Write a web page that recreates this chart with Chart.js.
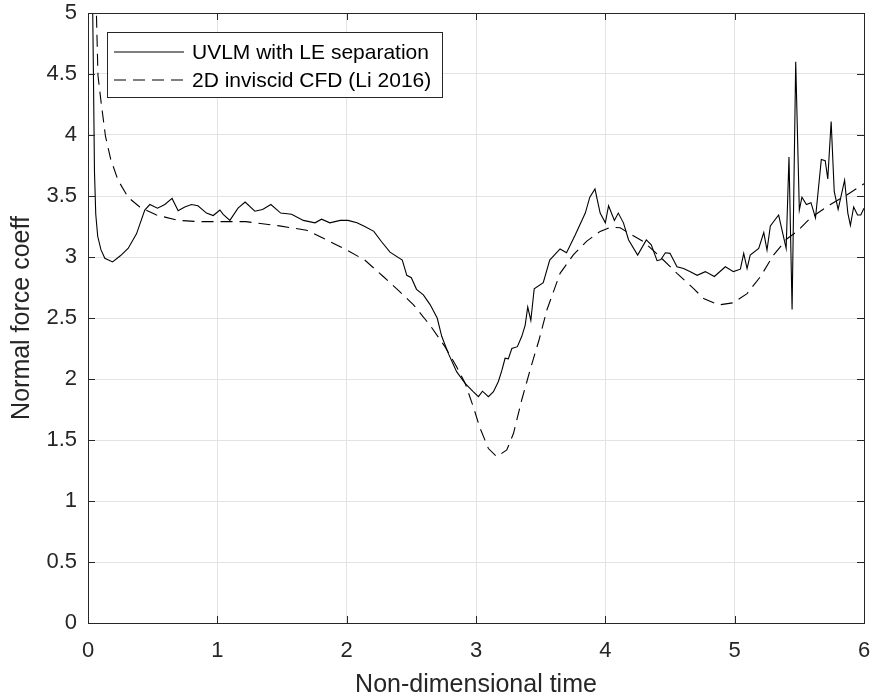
<!DOCTYPE html>
<html lang="en">
<head>
  <meta charset="UTF-8">
  <title>Normal force coefficient</title>
  <script src="https://cdn.jsdelivr.net/npm/chart.js"></script>
  <style>
    body { margin: 0; background: #fff; }
  </style>
</head>
<body>
  <canvas id="forceChart" width="871" height="700"></canvas>

  <script>
    // UVLM with LE separation (solid line)
    const uvlmT = [0.030, 0.042, 0.050, 0.060, 0.075, 0.100, 0.130, 0.190, 0.250, 0.310,
      0.375, 0.439, 0.478, 0.537, 0.594, 0.650, 0.697, 0.748, 0.800, 0.850,
      0.916, 0.968, 1.020, 1.045, 1.097, 1.160, 1.215, 1.290, 1.350, 1.414,
      1.490, 1.574, 1.665, 1.755, 1.806, 1.870, 1.950, 2.010, 2.080, 2.140,
      2.210, 2.270, 2.335, 2.430, 2.465, 2.500, 2.540, 2.593, 2.645, 2.700,
      2.735, 2.786, 2.850, 2.916, 2.980, 3.019, 3.050, 3.096, 3.135, 3.173,
      3.200, 3.225, 3.250, 3.277, 3.320, 3.354, 3.380, 3.400, 3.424, 3.450,
      3.520, 3.570, 3.650, 3.700, 3.767, 3.845, 3.880, 3.920, 3.960, 4.000,
      4.025, 4.070, 4.100, 4.140, 4.180, 4.250, 4.317, 4.355, 4.400, 4.430,
      4.464, 4.500, 4.554, 4.605, 4.657, 4.710, 4.773, 4.843, 4.928, 4.990,
      5.044, 5.070, 5.096, 5.120, 5.186, 5.225, 5.250, 5.276, 5.340, 5.398,
      5.420, 5.444, 5.472, 5.500, 5.520, 5.555, 5.590, 5.625, 5.670, 5.700,
      5.720, 5.746, 5.770, 5.800, 5.850, 5.875, 5.895, 5.920, 5.950, 5.975, 6.000];
    const uvlmCn = [5.60, 4.50, 3.70, 3.35, 3.17, 3.06, 2.99, 2.96, 3.01, 3.07,
      3.19, 3.385, 3.43, 3.40, 3.43, 3.48, 3.38, 3.41, 3.43, 3.42,
      3.36, 3.34, 3.385, 3.35, 3.30, 3.40, 3.45, 3.375, 3.39, 3.43,
      3.36, 3.35, 3.30, 3.28, 3.31, 3.28, 3.30, 3.30, 3.28, 3.25,
      3.21, 3.125, 3.04, 2.975, 2.85, 2.83, 2.735, 2.69, 2.61, 2.50,
      2.35, 2.21, 2.06, 1.965, 1.895, 1.855, 1.90, 1.855, 1.896, 1.98,
      2.07, 2.17, 2.165, 2.25, 2.265, 2.35, 2.44, 2.59, 2.48, 2.74,
      2.79, 2.975, 3.066, 3.035, 3.18, 3.36, 3.49, 3.557, 3.36, 3.28,
      3.42, 3.30, 3.36, 3.28, 3.14, 3.016, 3.14, 3.10, 2.97, 2.98,
      3.035, 3.03, 2.92, 2.905, 2.88, 2.85, 2.88, 2.84, 2.92, 2.88,
      2.90, 3.03, 2.905, 3.016, 3.07, 3.20, 3.057, 3.254, 3.344, 3.07,
      3.82, 2.57, 4.60, 3.385, 3.49, 3.43, 3.445, 3.32, 3.80, 3.79,
      3.64, 4.11, 3.535, 3.39, 3.63, 3.36, 3.26, 3.41, 3.344, 3.344, 3.40];

    // 2D inviscid CFD (Li 2016) (dashed line)
    const cfdT = [0.055, 0.065, 0.077, 0.100, 0.135, 0.176, 0.232, 0.310, 0.400, 0.530,
      0.700, 0.850, 1.000, 1.220, 1.480, 1.690, 1.845, 2.000, 2.140, 2.283,
      2.410, 2.515, 2.645, 2.760, 2.850, 2.916, 2.980, 3.030, 3.096, 3.160,
      3.238, 3.290, 3.354, 3.420, 3.490, 3.548, 3.650, 3.754, 3.857, 3.960,
      4.040, 4.115, 4.190, 4.296, 4.425, 4.554, 4.683, 4.760, 4.876, 4.990,
      5.096, 5.200, 5.300, 5.405, 5.483, 5.586, 5.740, 5.870, 6.000];
    const cfdCn = [5.60, 5.00, 4.49, 4.28, 3.99, 3.80, 3.63, 3.49, 3.41, 3.344,
      3.30, 3.29, 3.29, 3.29, 3.255, 3.22, 3.14, 3.057, 2.975, 2.84,
      2.716, 2.61, 2.44, 2.265, 2.10, 1.965, 1.77, 1.60, 1.43, 1.363,
      1.418, 1.555, 1.83, 2.08, 2.33, 2.566, 2.866, 3.02, 3.13, 3.21,
      3.243, 3.24, 3.19, 3.125, 3.00, 2.866, 2.74, 2.66, 2.607, 2.625,
      2.70, 2.84, 3.016, 3.15, 3.21, 3.32, 3.43, 3.51, 3.60];

    const xTicks = [0, 1, 2, 3, 4, 5, 6];
    const yTicks = [0, 0.5, 1, 1.5, 2, 2.5, 3, 3.5, 4, 4.5, 5];

    const seriesNames = ['UVLM with LE separation', '2D inviscid CFD (Li 2016)'];

    const toPoints = (xs, ys) => xs.map((x, i) => ({ x: x, y: ys[i] }));

    const axisColor = '#262626';
    const gridColor = '#e3e3e3';
    const fontFamily = '"Liberation Sans", Arial, Helvetica, sans-serif';
    Chart.defaults.font.family = fontFamily;
    Chart.defaults.color = axisColor;

    // box round the plot with inward tick marks on all four sides
    const boxPlugin = {
      id: 'matlabBox',
      afterDatasetsDraw(chart) {
        const { ctx, chartArea: a, scales } = chart;
        const len = 7;
        ctx.save();
        ctx.strokeStyle = axisColor;
        ctx.lineWidth = 1;
        ctx.beginPath();
        xTicks.forEach(v => {
          const px = Math.round(scales.x.getPixelForValue(v)) + 0.5;
          ctx.moveTo(px, a.bottom); ctx.lineTo(px, a.bottom - len);
          ctx.moveTo(px, a.top); ctx.lineTo(px, a.top + len);
        });
        yTicks.forEach(v => {
          const py = Math.round(scales.y.getPixelForValue(v)) + 0.5;
          ctx.moveTo(a.left, py); ctx.lineTo(a.left + len, py);
          ctx.moveTo(a.right, py); ctx.lineTo(a.right - len, py);
        });
        ctx.stroke();
        ctx.strokeRect(Math.round(a.left) + 0.5, Math.round(a.top) + 0.5,
          Math.round(a.right - a.left), Math.round(a.bottom - a.top));
        ctx.restore();
      }
    };

    // legend box in the top left corner of the plot
    const legendPlugin = {
      id: 'insideLegend',
      afterDraw(chart) {
        const { ctx, chartArea: a } = chart;
        const bx = a.left + 19, by = a.top + 19, bw = 335, bh = 65;
        ctx.save();
        ctx.fillStyle = '#fff';
        ctx.fillRect(bx, by, bw, bh);
        ctx.strokeStyle = axisColor;
        ctx.lineWidth = 1;
        ctx.strokeRect(Math.round(bx) + 0.5, Math.round(by) + 0.5, bw, bh);
        ctx.font = '21px ' + fontFamily;
        ctx.textBaseline = 'middle';
        chart.data.datasets.forEach((ds, i) => {
          const ry = by + 20 + i * 28;
          ctx.beginPath();
          ctx.strokeStyle = ds.borderColor;
          ctx.lineWidth = ds.borderWidth;
          ctx.setLineDash(ds.borderDash || []);
          ctx.moveTo(bx + 7, ry);
          ctx.lineTo(bx + 77, ry);
          ctx.stroke();
          ctx.setLineDash([]);
          ctx.fillStyle = '#000';
          ctx.fillText(ds.label, bx + 85, ry + 1);
        });
        ctx.restore();
      }
    };

    const ctx = document.getElementById('forceChart').getContext('2d');
    const forceChart = new Chart(ctx, {
      type: 'scatter',
      data: {
        datasets: [{
          label: seriesNames[0],
          data: toPoints(uvlmT, uvlmCn),
          showLine: true,
          borderColor: '#000',
          borderWidth: 1.1,
          pointRadius: 0,
          tension: 0
        }, {
          label: seriesNames[1],
          data: toPoints(cfdT, cfdCn),
          showLine: true,
          borderColor: '#000',
          borderWidth: 1.1,
          borderDash: [12, 7],
          pointRadius: 0,
          tension: 0
        }]
      },
      options: {
        responsive: false,
        animation: false,
        layout: { padding: { top: 13, right: 7, bottom: 0, left: 0 } },
        plugins: {
          legend: { display: false },
          tooltip: { enabled: false }
        },
        scales: {
          x: {
            type: 'linear',
            min: 0,
            max: 6,
            afterBuildTicks: s => { s.ticks = xTicks.map(v => ({ value: v })); },
            afterFit: s => { s.height = 77; s.paddingLeft = 0; s.paddingRight = 0; },
            ticks: {
              font: { size: 22 },
              color: axisColor,
              padding: 15,
              maxRotation: 0,
              callback: v => String(v)
            },
            grid: { color: gridColor, drawTicks: false },
            border: { display: true, color: axisColor },
            title: {
              display: true,
              text: 'Non-dimensional time',
              font: { size: 25 },
              color: axisColor,
              padding: { top: 0, bottom: 0 }
            }
          },
          y: {
            type: 'linear',
            min: 0,
            max: 5,
            afterBuildTicks: s => { s.ticks = yTicks.map(v => ({ value: v })); },
            afterFit: s => { s.width = 88; s.paddingTop = 0; s.paddingBottom = 0; },
            ticks: {
              font: { size: 22 },
              color: axisColor,
              padding: 11,
              callback: v => String(v)
            },
            grid: { color: gridColor, drawTicks: false },
            border: { display: true, color: axisColor },
            title: {
              display: true,
              text: 'Normal force coeff',
              font: { size: 25 },
              color: axisColor,
              padding: { top: 7, bottom: 0 }
            }
          }
        }
      },
      plugins: [boxPlugin, legendPlugin]
    });
  </script>
</body>
</html>
